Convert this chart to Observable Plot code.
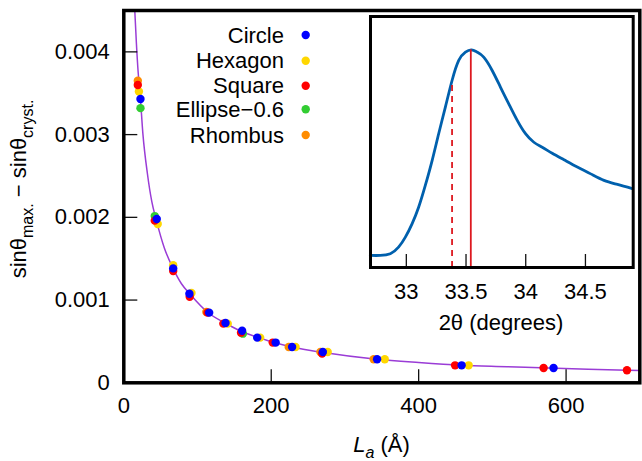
<!DOCTYPE html>
<html><head><meta charset="utf-8">
<script src="https://cdn.jsdelivr.net/npm/d3@7"></script>
<script src="https://cdn.jsdelivr.net/npm/@observablehq/plot@0.6"></script>
<style>
body{margin:0;background:#fff}
#wrap{position:relative;width:642px;height:461px}
#wrap svg{position:absolute;left:0;top:0;overflow:visible}
</style>
</head><body><div id="wrap"></div>
<script>
// ---- data ----
const seriesNames  = ["Circle", "Hexagon", "Square", "Ellipse−0.6", "Rhombus"];
const seriesColors = ["#0000ff", "#ffd700", "#ff0000", "#32cd32", "#ff8c00"];

const circleL  = [22.6, 44.7, 67, 89, 115.8, 138, 160.5, 181, 206, 228.3, 270, 343.6, 458.3, 583];
const circleV  = [0.00343, 0.00198, 0.001383, 0.001077, 0.000848, 0.000722, 0.00063, 0.000546, 0.000486, 0.000432, 0.000372, 0.000284, 0.000211, 0.000179];
const hexagonL = [20.5, 46, 67, 91.8, 141, 185, 233, 276.6, 354, 467.8];
const hexagonV = [0.00352, 0.00192, 0.00142, 0.001085, 0.000715, 0.000546, 0.000432, 0.000372, 0.000284, 0.000211];
const squareL  = [19, 42, 67, 89.4, 113.6, 135, 159, 202, 269, 449.4, 569.5, 682.6];
const squareV  = [0.0036, 0.00196, 0.00135, 0.00104, 0.000848, 0.000715, 0.000606, 0.000486, 0.000353, 0.000211, 0.000179, 0.000151];
const ellipseL = [22.6, 42, 161.5];
const ellipseV = [0.00332, 0.002015, 0.000594];
const rhombusL = [19, 112, 223.7, 266.7, 339];
const rhombusV = [0.00365, 0.000855, 0.000432, 0.000372, 0.000284];

const fitL = [14.9, 17, 19.5, 22, 26, 32, 38, 44, 55, 67, 78, 90, 114, 138, 160, 183, 204, 228, 271, 343, 400, 458, 520, 576, 630, 683, 700];
const fitV = [0.0045, 0.00412, 0.00375, 0.0035, 0.003, 0.00253, 0.00219, 0.00197, 0.00163, 0.00138, 0.0012, 0.00107, 0.00085, 0.00072, 0.00062, 0.000546, 0.000486, 0.000432, 0.000365, 0.000284, 0.000245, 0.000213, 0.000195, 0.000178, 0.000163, 0.000151, 0.000148];

const xTicks = [0, 200, 400, 600];
const yTicks = [0, 0.001, 0.002, 0.003, 0.004];

// inset: diffraction peak
const peakX = [32.698, 32.782, 32.866, 32.935, 32.992, 33.048, 33.103, 33.159, 33.216, 33.271, 33.327, 33.383, 33.439, 33.495, 33.545, 33.593, 33.648, 33.719, 33.789, 33.858, 33.929, 33.998, 34.068, 34.138, 34.222, 34.320, 34.432, 34.544, 34.655, 34.768, 34.893];
const peakI = [0.048, 0.048, 0.055, 0.081, 0.121, 0.174, 0.240, 0.327, 0.426, 0.533, 0.639, 0.745, 0.825, 0.858, 0.867, 0.858, 0.838, 0.785, 0.718, 0.652, 0.586, 0.533, 0.499, 0.479, 0.455, 0.429, 0.400, 0.373, 0.347, 0.331, 0.314];
const peakMaxX = 33.54, peakMaxI = 0.867;
const crystX = 33.383, crystI = 0.745;
const insetTicks = [33, 33.5, 34, 34.5];

// ---- tables ----
const seriesData = [
  ["Rhombus", rhombusL, rhombusV],
  ["Ellipse−0.6", ellipseL, ellipseV],
  ["Hexagon", hexagonL, hexagonV],
  ["Square", squareL, squareV],
  ["Circle", circleL, circleV]
];
const points = seriesData.flatMap(([s, L, V]) => L.map((l, i) => ({shape: s, L: l, v: V[i]})));
const fit = fitL.map((l, i) => ({L: l, v: fitV[i]}));
const peak = peakX.map((x, i) => ({x, y: peakI[i]}));

const FONT = "'Liberation Sans', Arial, Helvetica, sans-serif";
const wrap = document.getElementById("wrap");

const main = Plot.plot({
  width: 642, height: 461,
  marginLeft: 123.3, marginRight: 2.7, marginTop: 10, marginBottom: 78.7,
  style: {fontFamily: FONT, fontSize: "22px", background: "transparent", color: "black"},
  x: {domain: [0, 700]},
  y: {domain: [0, 0.0045]},
  color: {domain: seriesNames, range: seriesColors},
  marks: [
    Plot.line(fit, {x: "L", y: "v", stroke: "#9a3cd6", strokeWidth: 1.5, curve: "monotone-x", clip: true}),
    Plot.dot(points, {x: "L", y: "v", fill: "shape", r: 4.2}),
    Plot.axisX({ticks: xTicks, tickSize: 0, tickPadding: 15, tickFormat: d => String(d), label: null}),
    Plot.axisX({ticks: xTicks, tickSize: -13, fill: "none", stroke: "#111", strokeWidth: 1.3, label: null}),
    Plot.axisY({ticks: yTicks, tickSize: 0, tickPadding: 14, tickFormat: d => d === 0 ? "0" : d.toFixed(3), label: null}),
    Plot.axisY({ticks: yTicks, tickSize: -14, fill: "none", stroke: "#111", strokeWidth: 1.3, label: null}),
    Plot.frame({stroke: "black", strokeWidth: 3.5})
  ]
});
wrap.appendChild(main);

const inset = Plot.plot({
  width: 642, height: 461,
  marginLeft: 370, marginRight: 9.3, marginTop: 16, marginBottom: 194,
  style: {fontFamily: FONT, fontSize: "22px", background: "transparent", color: "black"},
  x: {domain: [32.7, 34.9]},
  y: {domain: [0, 1], axis: null},
  marks: [
    Plot.frame({fill: "white", stroke: null}),
    Plot.line(peak, {x: "x", y: "y", stroke: "#0060ad", strokeWidth: 2.8, curve: "natural"}),
    Plot.ruleX([peakMaxX], {x: d => d, y1: 0, y2: peakMaxI, stroke: "#dd181f", strokeWidth: 1.8}),
    Plot.ruleX([crystX], {x: d => d, y1: 0, y2: crystI, stroke: "#dd181f", strokeWidth: 1.8, strokeDasharray: "6,5"}),
    Plot.axisX({ticks: insetTicks, tickSize: 0, tickPadding: 16, tickFormat: d => String(d), label: null}),
    Plot.axisX({ticks: insetTicks, tickSize: -13, fill: "none", stroke: "#111", strokeWidth: 1.3, label: null}),
    Plot.frame({stroke: "black", strokeWidth: 3})
  ]
});
wrap.appendChild(inset);

// ---- texts: axis titles and legend ----
const svg = d3.select(main);
const yl = svg.append("text")
  .attr("transform", "translate(26,189) rotate(-90)")
  .attr("text-anchor", "middle")
  .attr("font-family", FONT).attr("font-size", 22).attr("fill", "black");
yl.append("tspan").text("sinθ");
yl.append("tspan").attr("font-size", 16).attr("dy", 7).text("max.");
yl.append("tspan").attr("dy", -7).text(" − sinθ");
yl.append("tspan").attr("font-size", 16).attr("dy", 7).text("cryst.");

const xl = svg.append("text")
  .attr("x", 381.5).attr("y", 452)
  .attr("text-anchor", "middle")
  .attr("font-family", FONT).attr("font-size", 22).attr("fill", "black");
xl.append("tspan").attr("font-style", "italic").text("L");
xl.append("tspan").attr("font-style", "italic").attr("font-size", 16).attr("dy", 6).text("a");
xl.append("tspan").attr("dy", -6).text(" (Å)");

const isvg = d3.select(inset);
isvg.append("text")
  .attr("x", 501).attr("y", 330)
  .attr("text-anchor", "middle")
  .attr("font-family", FONT).attr("font-size", 22).attr("fill", "black")
  .text("2θ (degrees)");

const legY = [35, 60.7, 85.7, 109.3, 135];
const leg = svg.append("g");
seriesNames.forEach((name, i) => {
  leg.append("text").attr("x", 284).attr("y", legY[i]).attr("dy", "0.35em")
    .attr("text-anchor", "end").attr("font-family", FONT).attr("font-size", 22)
    .attr("fill", "black").text(name);
  leg.append("circle").attr("cx", 305.7).attr("cy", legY[i]).attr("r", 4.2)
    .attr("fill", seriesColors[i]);
});
</script>
</body></html>
